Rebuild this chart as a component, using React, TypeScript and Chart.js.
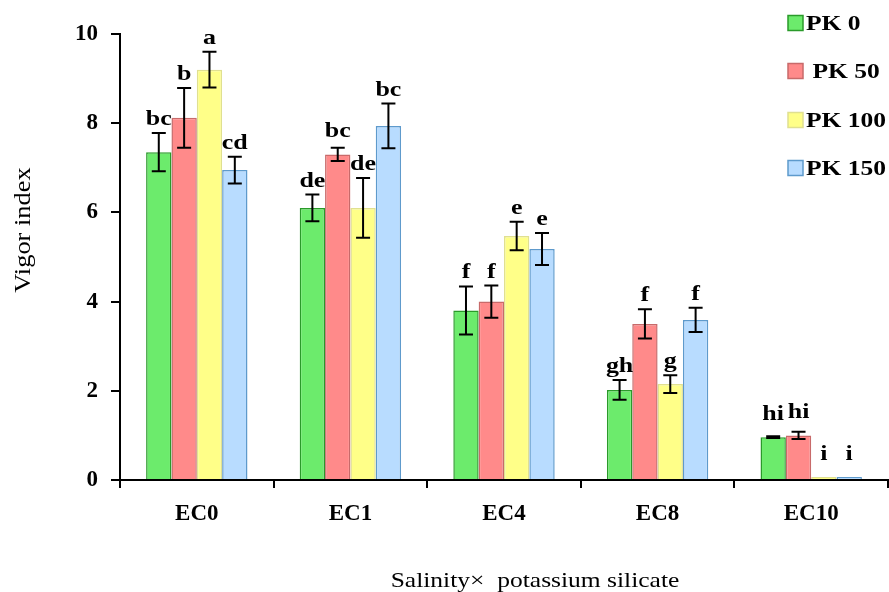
import React, { useEffect, useRef } from "react";
import { Chart, registerables } from "chart.js";

Chart.register(...registerables);

const categories = ["EC0", "EC1", "EC4", "EC8", "EC10"];
const seriesNames = ["PK 0", " PK 50", "PK 100", "PK 150"];
const pk0 = [7.35, 6.1, 3.8, 2.02, 0.96];
const pk50 = [8.12, 7.3, 4.0, 3.5, 1.0];
const pk100 = [9.2, 6.1, 5.47, 2.15, 0.07];
const pk150 = [6.95, 7.94, 5.18, 3.59, 0.07];
const err0 = [0.43, 0.3, 0.54, 0.22, 0.02];
const err50 = [0.67, 0.15, 0.36, 0.33, 0.08];
const err100 = [0.4, 0.67, 0.32, 0.2, 0];
const err150 = [0.3, 0.5, 0.36, 0.27, 0];
const letters0 = ["bc", "de", "f", "gh", "hi"];
const letters50 = ["b", "bc", "f", "f", "hi"];
const letters100 = ["a", "de", "e", "g", "i"];
const letters150 = ["cd", "bc", "e", "f", "i"];
const yTitle = "Vigor index";
const xTitle = "Salinity\u00d7  potassium silicate";

const values = [pk0, pk50, pk100, pk150];
const errors = [err0, err50, err100, err150];
const letters = [letters0, letters50, letters100, letters150];
const fills = ["#6CEB6C", "#FF8A8A", "#FFFF88", "#B8DCFF"];
const borders = ["#2A9A2A", "#C86A6A", "#E0E090", "#5E9ACC"];

const FONT = "'Liberation Serif', 'Times New Roman', serif";

function stretchText(ctx: any, text: string, x: number, y: number, sx: number) {
  ctx.save();
  ctx.translate(x, y);
  ctx.scale(sx, 1);
  ctx.fillText(text, 0, 0);
  ctx.restore();
}

const overlayPlugin = {
  id: "overlay",
  afterDatasetsDraw(chart: any) {
    const ctx = chart.ctx;
    const y = chart.scales.y;
    ctx.save();
    values.forEach((vals, i) => {
      const meta = chart.getDatasetMeta(i);
      meta.data.forEach((bar: any, j: number) => {
        const v = vals[j];
        const e = errors[i][j];
        const x = bar.x;
        const top = y.getPixelForValue(v + e);
        const bot = y.getPixelForValue(v - e);
        if (e > 0) {
          ctx.strokeStyle = "#000";
          ctx.lineWidth = 2;
          ctx.beginPath();
          ctx.moveTo(x, top);
          ctx.lineTo(x, bot);
          ctx.moveTo(x - 7, top);
          ctx.lineTo(x + 7, top);
          ctx.moveTo(x - 7, bot);
          ctx.lineTo(x + 7, bot);
          ctx.stroke();
        }
        const barTop = y.getPixelForValue(v);
        const base = Math.min(top - 8, barTop - 17);
        ctx.fillStyle = "#000";
        ctx.font = `bold 22px ${FONT}`;
        ctx.textAlign = "center";
        ctx.textBaseline = "alphabetic";
        stretchText(ctx, letters[i][j], x, base, 1.18);
      });
    });
    ctx.restore();
  },
  afterDraw(chart: any) {
    const ctx = chart.ctx;
    const area = chart.chartArea;
    ctx.save();
    // small extension of the x axis line left of the y axis
    ctx.strokeStyle = "#000";
    ctx.lineWidth = 2;
    ctx.beginPath();
    ctx.moveTo(area.left - 8, area.bottom);
    ctx.lineTo(area.left, area.bottom);
    ctx.stroke();
    // legend
    const ys = [23, 71, 120, 168];
    seriesNames.forEach((name, i) => {
      ctx.fillStyle = fills[i];
      ctx.strokeStyle = borders[i];
      ctx.lineWidth = 1.5;
      ctx.fillRect(788, ys[i] - 7.5, 15, 15);
      ctx.strokeRect(788, ys[i] - 7.5, 15, 15);
      ctx.fillStyle = "#000";
      ctx.font = `bold 22px ${FONT}`;
      ctx.textAlign = "left";
      ctx.textBaseline = "middle";
      stretchText(ctx, name, 806, ys[i] + 1, 1.16);
    });
    // y title
    ctx.save();
    ctx.translate(24, 230);
    ctx.rotate(-Math.PI / 2);
    ctx.font = `24px ${FONT}`;
    ctx.textAlign = "center";
    ctx.textBaseline = "middle";
    ctx.fillStyle = "#000";
    stretchText(ctx, yTitle, 0, 0, 1.1);
    ctx.restore();
    // x title
    ctx.font = `22px ${FONT}`;
    ctx.textAlign = "center";
    ctx.textBaseline = "middle";
    ctx.fillStyle = "#000";
    stretchText(ctx, xTitle, 535, 581, 1.16);
    ctx.restore();
  },
};

export default function App() {
  const ref = useRef<HTMLCanvasElement | null>(null);
  useEffect(() => {
    if (!ref.current) return;
    const chart = new Chart(ref.current, {
      type: "bar",
      data: {
        labels: categories,
        datasets: values.map((vals, i) => ({
          label: seriesNames[i],
          data: vals,
          backgroundColor: fills[i],
          borderColor: borders[i],
          borderWidth: 1.5,
          barPercentage: 1,
          categoryPercentage: 0.66,
        })),
      },
      options: {
        responsive: false,
        animation: false,
        layout: { padding: { top: 34, right: 1, left: 0, bottom: 0 } },
        plugins: { legend: { display: false }, tooltip: { enabled: false } },
        scales: {
          x: {
            grid: { drawOnChartArea: false, drawTicks: true, tickLength: 8, color: "#000", lineWidth: 2, offset: true },
            border: { color: "#000", width: 2 },
            ticks: { color: "#000", font: { family: FONT, size: 23, weight: "bold" }, padding: 12 },
            afterFit(scale: any) {
              scale.height = 112;
            },
          },
          y: {
            min: 0,
            max: 10,
            ticks: { stepSize: 2, color: "#000", font: { family: FONT, size: 23, weight: "bold" }, padding: 13 },
            grid: { drawOnChartArea: false, drawTicks: true, tickLength: 9, color: "#000", lineWidth: 2 },
            border: { color: "#000", width: 2 },
            afterFit(scale: any) {
              scale.width = 120;
            },
          },
        },
      },
      plugins: [overlayPlugin],
    });
    return () => chart.destroy();
  }, []);
  return (
    <div style={{ position: "fixed", left: 0, top: 0, width: 889, height: 592, background: "#fff" }}>
      <canvas ref={ref} width={889} height={592} style={{ width: 889, height: 592 }} />
    </div>
  );
}
